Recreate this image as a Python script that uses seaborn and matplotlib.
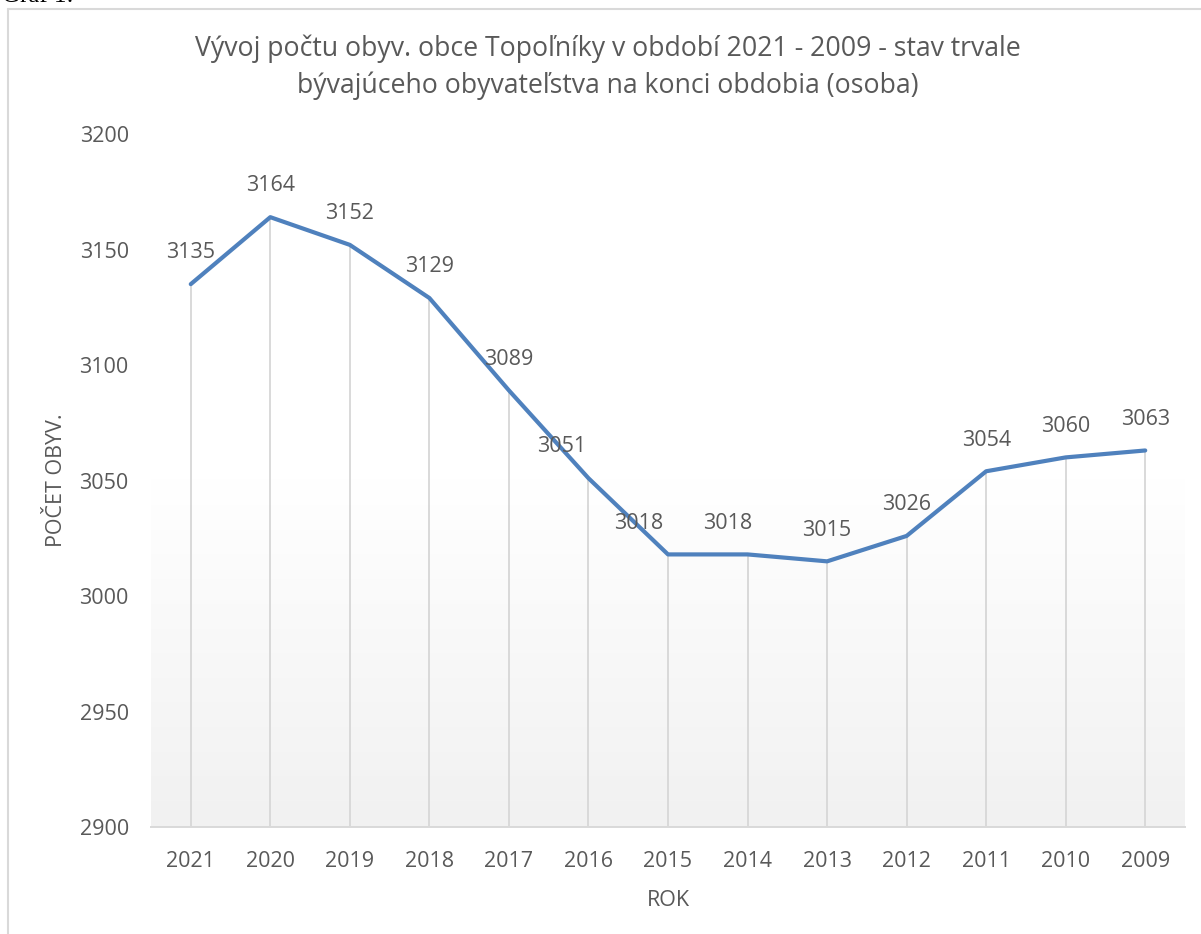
import matplotlib
matplotlib.use("Agg")
import matplotlib.pyplot as plt
from matplotlib.colors import LinearSegmentedColormap
from matplotlib.lines import Line2D
import seaborn as sns
import numpy as np
import pandas as pd

# data
roky = ["2021", "2020", "2019", "2018", "2017", "2016", "2015",
        "2014", "2013", "2012", "2011", "2010", "2009"]
pocet = [3135, 3164, 3152, 3129, 3089, 3051, 3018,
         3018, 3015, 3026, 3054, 3060, 3063]
y_ticks = [2900, 2950, 3000, 3050, 3100, 3150, 3200]

df = pd.DataFrame({"rok": roky, "pocet": pocet})

sns.set_style("white")
plt.rcParams["font.family"] = ["Open Sans", "DejaVu Sans"]

W, H = 1201, 934
fig = plt.figure(figsize=(W / 100, H / 100), dpi=100)
ax = fig.add_axes([151 / W, 1 - 827 / H, (1185 - 151) / W, (827 - 134) / H])

text_col = "#595959"
grid_col = "#d9d9d9"
line_col = "#4f81bd"
fs = 15.5

# plot area gradient (white at top -> light gray at bottom)
cmap = LinearSegmentedColormap.from_list("bg", ["#ffffff", "#ffffff", "#f1f1f1"])
grad = np.linspace(0, 1, 256).reshape(-1, 1)
ax.imshow(grad, extent=[0, 1, 0, 1], origin="upper", transform=ax.transAxes,
          aspect="auto", cmap=cmap, zorder=0)

sns.lineplot(data=df, x="rok", y="pocet", sort=False, color=line_col,
             linewidth=3, ax=ax, zorder=3)

# drop lines
ax.vlines(range(len(roky)), y_ticks[0], pocet, color=grid_col, linewidth=1.4, zorder=2)

ax.set_xlim(-0.5, len(roky) - 0.5)
ax.set_ylim(y_ticks[0], y_ticks[-1])
ax.set_yticks(y_ticks)
ax.set_xticks(range(len(roky)))
ax.set_xticklabels(roky)

# data labels (a few moved left, as in the original)
shift = {5: -19, 6: -21, 7: -14}
for i, v in enumerate(pocet):
    ax.annotate(str(v), (i, v), xytext=(shift.get(i, 0), 22.5),
                textcoords="offset points", ha="center", va="center",
                fontsize=fs, color=text_col, zorder=4)

for s in ["top", "right", "left"]:
    ax.spines[s].set_visible(False)
ax.spines["bottom"].set_color(grid_col)
ax.spines["bottom"].set_linewidth(1.4)
ax.tick_params(axis="both", length=0, labelsize=fs, labelcolor=text_col)
ax.tick_params(axis="x", pad=17)
ax.tick_params(axis="y", pad=16)

ax.set_xlabel("ROK", fontsize=fs, color=text_col, labelpad=13)
ax.set_ylabel("POČET OBYV.", fontsize=fs, color=text_col, labelpad=9)

fig.text(608 / W, 1 - 67 / H,
         "Vývoj počtu obyv. obce Topoľníky v období 2021 - 2009 - stav trvale\n"
         "bývajúceho obyvateľstva na konci obdobia (osoba)",
         ha="center", va="center", fontsize=19.2, color=text_col, linespacing=1.38)

# chart border (cut off at right and bottom)
fig.add_artist(Line2D([8 / W, 8 / W], [0, 1 - 9 / H], transform=fig.transFigure,
                      color=grid_col, linewidth=1.5))
fig.add_artist(Line2D([8 / W, 1], [1 - 9 / H, 1 - 9 / H], transform=fig.transFigure,
                      color=grid_col, linewidth=1.5))

# caption above chart, mostly outside the image (as in the original)
fig.text(2 / W, 1 - 2 / H, "Graf 1:", ha="left", va="baseline",
         fontsize=18, family="Liberation Serif", color="black")

fig.savefig("out.png", dpi=100)
